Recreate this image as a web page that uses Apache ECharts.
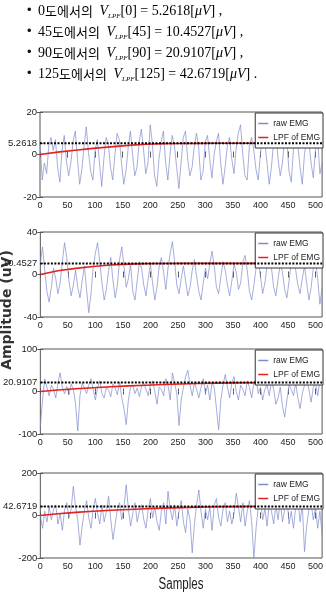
<!DOCTYPE html>
<html>
<head>
<meta charset="utf-8">
<script src="https://cdn.jsdelivr.net/npm/echarts@6/dist/echarts.min.js"></script>
<style>
  html, body { margin: 0; padding: 0; background: #fff; }
  #chart { width: 326px; height: 594px; }
</style>
</head>
<body>
<div id="chart"></div>
<script>
// --- data ---
const angles = ['0', '45', '90', '125'];
const lpfFinal = [5.2618, 10.4527, 20.9107, 42.6719];
const yLimits = [20, 40, 100, 200];
const xTicks = [0, 50, 100, 150, 200, 250, 300, 350, 400, 450, 500];
const xMax = 512;

// raw EMG, one value every 4 samples (0..512)
const rawStep = 4;
const raw0 = [
  6, -12, -4, -9, 4, 8, 2, 7, -6, -13, 2, 9, -3, -10, -4, 6,
  11, -2, -14, -7, 4, 13, 1, -8, -12, 2, 7, -4, -15, -2, 8, 5,
  -6, -12, 0, 10, 7, -4, -14, -8, 3, 11, 0, -10, -6, 6, 12, 2,
  -9, -4, 14, 5, -10, -15, -2, 6, 11, -4, -12, 0, 9, 4, -6, -16,
  -4, 8, 11, -2, -10, -6, 4, 10, 3, -12, -8, 6, 9, -2, -11, 0,
  6, 10, -4, -14, -6, 4, 8, -2, -9, 3, 10, 14, 0, -10, -12, 4,
  8, 2, -7, -12, 0, 9, 6, -4, -14, -6, 6, 11, -2, -10, -4, 8,
  6, -8, -13, 2, 10, 4, -6, -14, 0, 8, 6, -4, -11, 2, 7, -9, -4
];
const raw1 = [
  10, 26, 4, -16, -26, -12, 6, -4, -18, -8, 12, 30, 16, -6, -20, -10,
  4, -12, -22, -6, 8, -14, -36, -18, 6, 20, 30, 12, -8, -24, -14, 4,
  16, -6, -22, -10, 14, 26, 8, -12, -4, 10, -16, -24, -6, 12, 6, -10,
  -20, -4, 10, -8, -24, -12, 8, 16, 2, -14, 6, 20, 31, 12, -10, -18,
  -4, 8, -6, -20, -12, 4, 14, -2, -16, -24, -8, 6, -4, 10, 22, 8,
  -12, -18, -2, 12, 4, -10, -20, -6, 10, 2, -14, -8, 12, 18, 4, -16,
  -24, -10, 6, 14, -2, -18, -8, 8, 20, 6, -12, -20, -4, 10, 2, -14,
  -22, -6, 12, 18, 4, -10, -18, -4, 8, -8, -24, -12, 6, 14, -4, -28, -12
];
const raw2 = [
  -83, -20, 30, 10, -10, 15, 5, -15, 20, 44, 10, -5, 12, -8, 18, 5,
  -30, -93, -10, 20, 8, -5, 15, 30, 5, -20, 10, 25, -5, -15, 10, 3,
  -12, 18, 8, -8, 22, -15, -40, -78, -20, 10, 15, -5, 8, -12, 12, 20,
  5, -10, 15, 25, 0, -30, 10, 5, -10, 30, 15, -20, 44, 20, -5, -80,
  -20, 10, 35, 50, 15, -10, 20, 5, -15, 10, 30, -5, 15, -20, 20, 10,
  -40, -90, -20, 15, 40, 10, -15, 20, 35, 0, -20, 15, 5, -10, 25, 10,
  -15, 20, 30, -5, 10, -20, 5, 15, -10, 25, 5, -30, -15, 10, -35, -60,
  -20, 15, 5, -10, 20, -15, -40, -5, 15, 30, 5, -25, 10, 20, -10, 25, 15
];
const raw3 = [
  0, -60, 20, -30, 40, -20, 30, 50, -40, 10, -70, 25, 60, -10, 30, 137,
  40, -20, -140, -50, 20, 70, -10, -60, 30, 80, 10, -40, 50, -30, 20, 90,
  -20, -113, -40, 30, 60, -20, 40, 145, 30, -50, 10, 60, -30, 20, 50, -20,
  -60, 30, 80, -10, 40, -30, -70, 20, 60, -40, 114, 30, -20, 50, -50, 20,
  70, -30, -80, 30, -20, -176, -40, 50, 120, 20, -60, 30, -20, 40, -70, 50,
  80, -10, -50, 30, 60, -30, 20, -40, 10, 105, 40, -30, 60, -50, 20, 70,
  -30, -200, -60, 40, 80, -20, 30, -50, 60, 20, -40, 50, -20, 70, -30, 30,
  90, -40, 20, -60, 40, 80, -30, 50, -170, -50, 30, 60, -20, 40, -60, 20, -90
];

// low-pass filtered EMG, sampled every 32 samples
const lpfSamples = [0, 32, 64, 96, 128, 160, 192, 224, 256, 288, 320, 352, 384, 416, 448, 480, 512];
const lpf0 = [0, 1.1, 2.0, 2.9, 3.6, 4.3, 4.8, 5.1, 5.2, 5.25, 5.26, 5.26, 5.26, 5.26, 5.26, 5.26, 5.26];
const lpf1 = [0, 3.5, 5.8, 7.6, 8.9, 9.8, 10.2, 10.4, 10.45, 10.45, 10.45, 10.45, 10.45, 10.45, 10.45, 10.45, 10.45];
const lpf2 = [0, 3.5, 6.5, 9.0, 11.3, 13.2, 14.8, 16.3, 17.6, 18.7, 19.6, 20.3, 20.7, 20.9, 20.91, 20.91, 20.91];
const lpf3 = [0, 8, 14.5, 20, 24.5, 28.5, 31.5, 34.5, 37, 39.3, 41, 42, 42.5, 42.67, 42.67, 42.67, 42.67];

const rawSets = [raw0, raw1, raw2, raw3];
const lpfSets = [lpf0, lpf1, lpf2, lpf3];

// --- layout ---
const gridTops = [112, 232, 349, 473];
const gridH = 85;
const tickFont = "'Liberation Sans', Arial, sans-serif";
const rawColor = '#7f8bcc';
const lpfColor = '#e3211f';

const chart = echarts.init(document.getElementById('chart'));

const grid = [], xAxis = [], yAxis = [], series = [], legend = [];

gridTops.forEach((top, k) => {
  grid.push({ left: 40, width: 283, top: top, height: gridH, show: true, borderColor: '#555', borderWidth: 1 });
});

gridTops.forEach((top, k) => {
  const lim = yLimits[k];
  const v = lpfFinal[k];
  xAxis.push({
    gridIndex: k, type: 'value', min: 0, max: xMax,
    axisLine: { show: false }, splitLine: { show: false },
    axisTick: { inside: true, length: 3, customValues: xTicks, lineStyle: { color: '#555' } },
    axisLabel: { customValues: xTicks, margin: 4, fontFamily: tickFont, fontSize: 9, color: '#222' }
  });
  yAxis.push({
    gridIndex: k, type: 'value', min: -lim, max: lim,
    axisLine: { show: false }, splitLine: { show: false },
    axisTick: { inside: true, length: 3, customValues: [-lim, 0, v, lim], lineStyle: { color: '#555' } },
    axisLabel: {
      customValues: [-lim, 0, v, lim], margin: 3, fontFamily: tickFont, fontSize: 9.5, color: '#222',
      formatter: val => Math.abs(val - v) < 1e-6 ? v.toFixed(4) : String(val)
    }
  });
});
// top / right ticks of the MATLAB style box
gridTops.forEach((top, k) => {
  const lim = yLimits[k];
  xAxis.push({
    gridIndex: k, type: 'value', min: 0, max: xMax, position: 'top',
    axisLine: { show: false }, splitLine: { show: false }, axisLabel: { show: false },
    axisTick: { inside: true, length: 3, customValues: xTicks, lineStyle: { color: '#555' } }
  });
  yAxis.push({
    gridIndex: k, type: 'value', min: -lim, max: lim, position: 'right',
    axisLine: { show: false }, splitLine: { show: false }, axisLabel: { show: false },
    axisTick: { inside: true, length: 3, customValues: [-lim, 0, lim], lineStyle: { color: '#555' } }
  });
});

gridTops.forEach((top, k) => {
  series.push({
    name: 'raw EMG', type: 'line', xAxisIndex: k, yAxisIndex: k,
    symbol: 'none', z: 2,
    lineStyle: { color: rawColor, width: 0.7 }, itemStyle: { color: rawColor },
    data: rawSets[k].map((y, i) => [i * rawStep, y])
  });
  series.push({
    name: 'LPF of EMG', type: 'line', xAxisIndex: k, yAxisIndex: k,
    symbol: 'none', z: 3,
    lineStyle: { color: lpfColor, width: 1.6 }, itemStyle: { color: lpfColor },
    data: lpfSets[k].map((y, i) => [lpfSamples[i], y])
  });
  series.push({
    name: 'final', type: 'line', xAxisIndex: k, yAxisIndex: k,
    symbol: 'none', z: 4, silent: true,
    lineStyle: { color: '#000', width: 2, type: [2, 1.5] },
    data: [[0, lpfFinal[k]], [xMax, lpfFinal[k]]]
  });
  legend.push({
    right: 3, top: top + 1, orient: 'vertical',
    data: [
      { name: 'raw EMG', icon: 'rect', itemStyle: { color: rawColor } },
      { name: 'LPF of EMG', icon: 'rect', itemStyle: { color: lpfColor } }
    ],
    backgroundColor: '#fff', borderColor: '#333', borderWidth: 1,
    padding: [6, 3, 6, 3], itemGap: 5, itemWidth: 10, itemHeight: 1.5,
    textStyle: { fontFamily: tickFont, fontSize: 8.5, color: '#222' }
  });
});

// --- header text lines ---
const rich = {
  n: { fontFamily: 'Liberation Serif', fontSize: 14, color: '#111', lineHeight: 18 },
  k: { fontFamily: 'Noto Sans CJK KR', fontSize: 13, color: '#222', lineHeight: 18 },
  v: { fontFamily: 'Liberation Serif', fontStyle: 'italic', fontSize: 14, color: '#111', lineHeight: 18 },
  s: { fontFamily: 'Liberation Serif', fontStyle: 'italic', fontSize: 7, color: '#111', lineHeight: 8, verticalAlign: 'bottom' },
  m: { fontFamily: 'Liberation Serif', fontSize: 14, color: '#111', lineHeight: 18 }
};
const lineY = [13, 34, 55, 76];
const graphic = [];
angles.forEach((a, k) => {
  graphic.push({
    type: 'text', left: 27, top: lineY[k] - 9,
    style: { text: '•', font: '13px Liberation Sans', fill: '#111' }
  });
  graphic.push({
    type: 'text', left: 38, top: lineY[k] - 9,
    style: {
      text: '{n|' + a + '}{k|도에서의}  {v|V}{s|LPF}{m|[' + a + '] = ' + lpfFinal[k].toFixed(4) + '[}{v|μV}{m|]' + (k === 3 ? ' .' : ' ,') + '}',
      rich: rich
    }
  });
});
graphic.push({
  type: 'text', x: 7, y: 310, rotation: Math.PI / 2,
  style: { text: 'Amplitude (uV)', font: 'bold 14px DejaVu Sans', fill: '#333', align: 'center', verticalAlign: 'middle' }
});
graphic.push({
  type: 'text', x: 181, y: 585, scaleX: 0.72,
  style: { text: 'Samples', font: '16px Liberation Sans', fill: '#222', align: 'center', verticalAlign: 'middle' }
});

chart.setOption({
  animation: false,
  grid: grid,
  xAxis: xAxis,
  yAxis: yAxis,
  legend: legend,
  series: series,
  graphic: graphic
});
</script>
</body>
</html>
